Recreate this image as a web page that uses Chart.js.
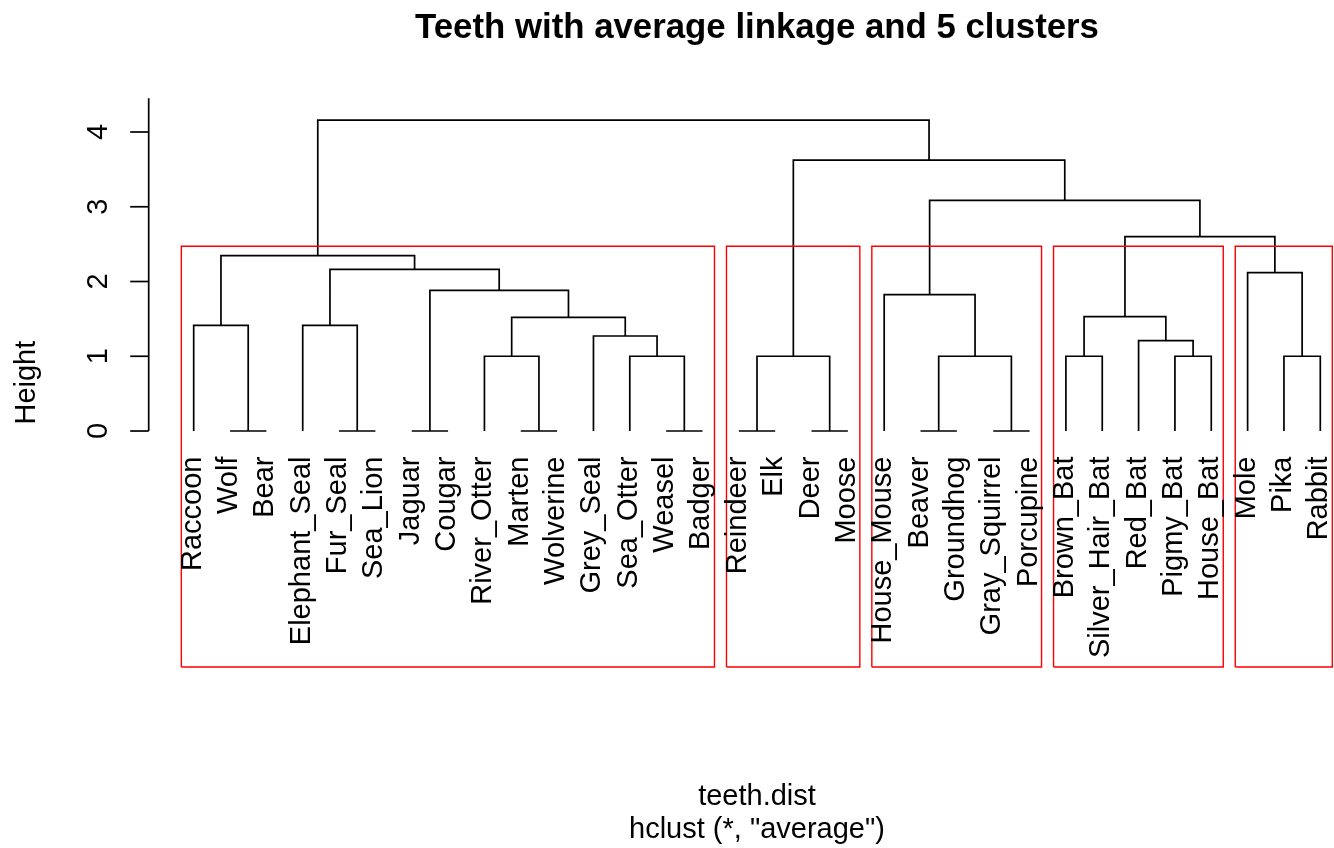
<!DOCTYPE html>
<html>
<head>
<meta charset="utf-8">
<title>Teeth with average linkage and 5 clusters</title>
<script src="https://cdn.jsdelivr.net/npm/chart.js@4/dist/chart.umd.min.js"></script>
<style>
  html, body { margin: 0; padding: 0; background: #ffffff; overflow: hidden; }
  canvas { display: block; }
</style>
</head>
<body>
<canvas id="dendro" width="1334" height="848"></canvas>
<script>
// Leaves in dendrogram order (left to right)
const leafLabels = [
  "Raccoon", "Wolf", "Bear", "Elephant_Seal", "Fur_Seal", "Sea_Lion",
  "Jaguar", "Cougar", "River_Otter", "Marten", "Wolverine", "Grey_Seal",
  "Sea_Otter", "Weasel", "Badger", "Reindeer", "Elk", "Deer", "Moose",
  "House_Mouse", "Beaver", "Groundhog", "Gray_Squirrel", "Porcupine",
  "Brown_Bat", "Silver_Hair_Bat", "Red_Bat", "Pigmy_Bat", "House_Bat",
  "Mole", "Pika", "Rabbit"
];

// Merge steps, hclust style: negative = leaf position (1-based), positive = earlier step
const mergeLeft   = [-2, -5, -7, -10, -14, -16, -18, -21, -23, -9, -13, 6, 8, -25, -28, -31,
                     -27, -12, -1, -4, 10, 14, -20, 3, -30, 20, 19, 22, 23, 12, 27];
const mergeRight  = [-3, -6, -8, -11, -15, -17, -19, -22, -24, 4, 5, 7, 9, -26, -29, -32,
                     15, 11, 1, 2, 18, 17, 13, 21, 16, 24, 26, 25, 28, 29, 30];
const mergeHeight = [0, 0, 0, 0, 0, 0, 0, 0, 0, 1.0, 1.0, 1.0, 1.0, 1.0, 1.0, 1.0,
                     1.208, 1.271, 1.414, 1.414, 1.521, 1.530, 1.824, 1.882, 2.118,
                     2.163, 2.345, 2.600, 3.086, 3.625, 4.160];

// Cluster sizes (k = 5), in leaf order
const clusterSizes = [15, 4, 5, 5, 3];

// Height axis ticks
const yTicks = [0, 1, 2, 3, 4];

const titleText = "Teeth with average linkage and 5 clusters";
const xLabelText = "teeth.dist";
const subText = 'hclust (*, "average")';
const yLabelText = "Height";

// Position of each node: leaves at x = 1..n, height 0; merges centred over their children
const nodeX = [], nodeH = [];
function childPos(id) {
  return id < 0 ? { x: -id, h: 0 } : { x: nodeX[id - 1], h: nodeH[id - 1] };
}
const branchSets = mergeHeight.map((h, i) => {
  const a = childPos(mergeLeft[i]);
  const b = childPos(mergeRight[i]);
  nodeX[i] = (a.x + b.x) / 2;
  nodeH[i] = h;
  return {
    data: [{ x: a.x, y: a.h }, { x: a.x, y: h }, { x: b.x, y: h }, { x: b.x, y: b.h }],
    borderColor: "#000000",
    borderWidth: 1.7,
    order: 1
  };
});

// Cluster boxes: cut midway between the (k-1)th and kth highest merges
const yMin = -3.157, yMax = 4.451;
const sortedH = mergeHeight.slice().sort((p, q) => q - p);
const k = clusterSizes.length;
const cutH = (sortedH[k - 2] + sortedH[k - 1]) / 2;
let start = 0;
const boxSets = clusterSizes.map(sz => {
  const x0 = start + 0.66, x1 = start + sz + 0.33;
  start += sz;
  return {
    data: [{ x: x0, y: yMin }, { x: x0, y: cutH }, { x: x1, y: cutH }, { x: x1, y: yMin }, { x: x0, y: yMin }],
    borderColor: "#ff0000",
    borderWidth: 1.4,
    order: 0
  };
});

const FONT = '"Liberation Sans", Arial, Helvetica, sans-serif';

const decorations = {
  id: "dendroDecor",
  afterDraw(chart) {
    const ctx = chart.ctx;
    const xs = chart.scales.x, ys = chart.scales.y;
    const area = chart.chartArea;
    ctx.save();
    ctx.fillStyle = "#000000";
    ctx.strokeStyle = "#000000";
    ctx.lineWidth = 1.7;

    // Height axis line and ticks
    const axX = area.left;
    ctx.beginPath();
    ctx.moveTo(axX, ys.getPixelForValue(0));
    ctx.lineTo(axX, area.top);
    ctx.stroke();
    ctx.font = "29px " + FONT;
    yTicks.forEach(t => {
      const py = ys.getPixelForValue(t);
      ctx.beginPath();
      ctx.moveTo(axX - 18.5, py);
      ctx.lineTo(axX, py);
      ctx.stroke();
      ctx.save();
      ctx.translate(107, py);
      ctx.rotate(-Math.PI / 2);
      ctx.textAlign = "center";
      ctx.textBaseline = "alphabetic";
      ctx.fillText(String(t), 0, 0);
      ctx.restore();
    });

    // Axis title
    ctx.save();
    ctx.translate(35, (area.top + area.bottom) / 2);
    ctx.rotate(-Math.PI / 2);
    ctx.textAlign = "center";
    ctx.textBaseline = "alphabetic";
    ctx.fillText(yLabelText, 0, 0);
    ctx.restore();

    // Leaf labels, hanging below the leaves
    const labelTop = ys.getPixelForValue(0) + 25.5;
    leafLabels.forEach((lab, i) => {
      const px = xs.getPixelForValue(i + 1);
      ctx.save();
      ctx.translate(px, labelTop);
      ctx.rotate(-Math.PI / 2);
      ctx.textAlign = "right";
      ctx.textBaseline = "alphabetic";
      ctx.fillText(lab, 0, 7);
      ctx.restore();
    });

    // Title and bottom captions, centred over the leaves
    const cx = xs.getPixelForValue((1 + leafLabels.length) / 2);
    ctx.textAlign = "center";
    ctx.textBaseline = "alphabetic";
    ctx.font = "bold 34.8px " + FONT;
    ctx.fillText(titleText, cx, 38.3);
    ctx.font = "29px " + FONT;
    ctx.fillText(xLabelText, cx, 805);
    ctx.fillText(subText, cx, 838.3);
    ctx.restore();
  }
};

new Chart(document.getElementById("dendro"), {
  type: "scatter",
  data: { datasets: branchSets.concat(boxSets) },
  options: {
    responsive: false,
    devicePixelRatio: 1,
    animation: false,
    events: [],
    showLine: true,
    clip: false,
    layout: { padding: { left: 148.7, top: 98.3, right: 0, bottom: 181 } },
    elements: {
      point: { radius: 0, hoverRadius: 0 },
      line: { tension: 0, fill: false, borderCapStyle: "butt", borderJoinStyle: "miter" }
    },
    scales: {
      x: { type: "linear", display: false, min: -0.238, max: 32.377 },
      y: { type: "linear", display: false, min: yMin, max: yMax }
    },
    plugins: {
      legend: { display: false },
      tooltip: { enabled: false },
      title: { display: false }
    }
  },
  plugins: [decorations]
});
</script>
</body>
</html>
